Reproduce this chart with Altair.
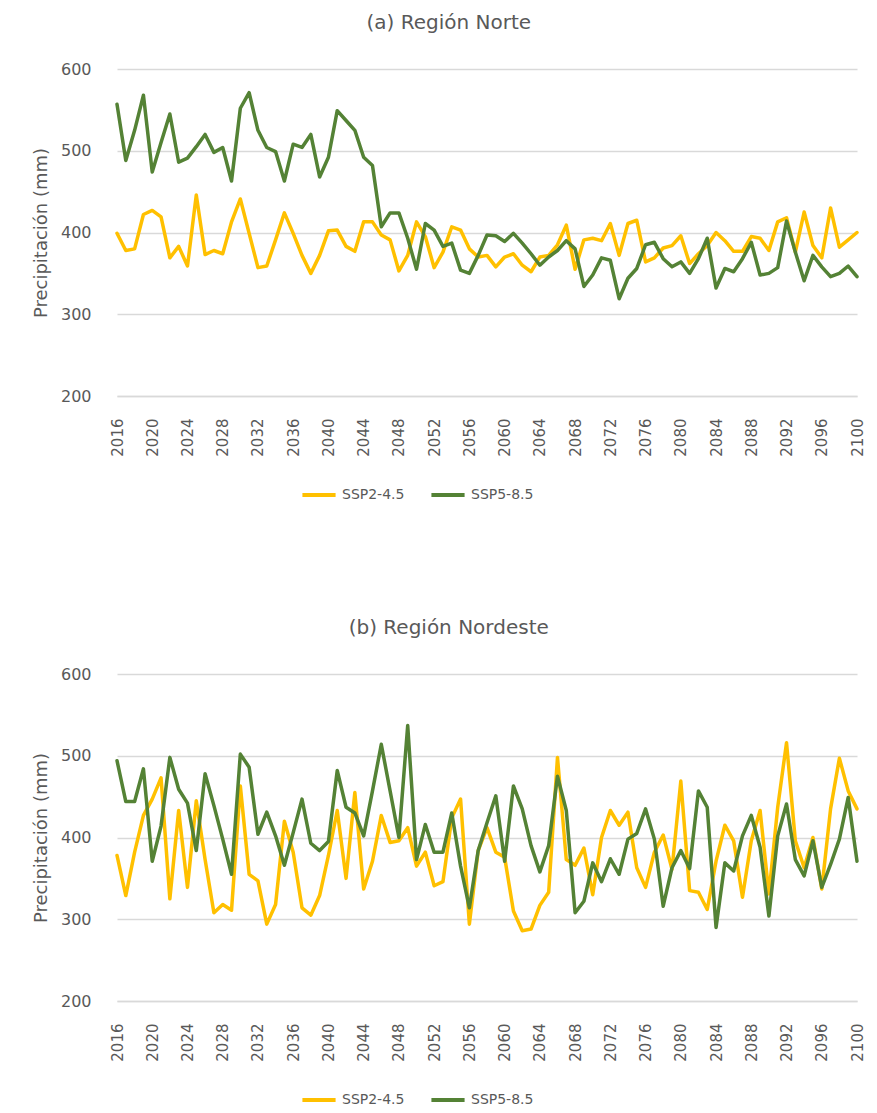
import altair as alt
import pandas as pd

years = list(range(2016, 2101))
scenarios = ["SSP2-4.5", "SSP5-8.5"]
regions = ["(a) Región Norte", "(b) Región Nordeste"]
x_ticks = list(range(2016, 2101, 4))
y_ticks = [200, 300, 400, 500, 600]

norte_ssp245 = [
    399, 378, 380, 422, 427, 419, 369, 383, 359, 446,
    373, 378, 374, 413, 441, 399, 357, 359, 391, 424,
    399, 372, 350, 372, 402, 403, 383, 377, 413, 413,
    397, 391, 353, 372, 413, 395, 357, 376, 407, 403,
    380, 370, 372, 358, 370, 374, 360, 352, 370, 372,
    385, 409, 355, 391, 393, 390, 411, 372, 411, 415,
    364, 369, 381, 384, 396, 362, 374, 384, 400, 390,
    377, 377, 395, 393, 378, 413, 418, 376, 425, 384,
    369, 430, 382, 391, 400,
]
norte_ssp585 = [
    557, 488, 525, 568, 474, 510, 545, 486, 491, 505,
    520, 498, 504, 463, 552, 571, 525, 504, 499, 463,
    508, 504, 520, 468, 492, 549, 537, 525, 492, 482,
    407, 424, 424, 393, 355, 411, 403, 383, 387, 354,
    350, 372, 397, 396, 389, 399, 387, 374, 360, 370,
    378, 390, 380, 334, 348, 369, 366, 319, 344, 356,
    385, 388, 368, 358, 364, 350, 368, 393, 332, 356,
    352, 368, 388, 348, 350, 357, 414, 376, 341, 372,
    358, 346, 350, 359, 346,
]
nordeste_ssp245 = [
    378, 329, 382, 427, 447, 473, 325, 433, 339, 445,
    373, 308, 318, 311, 463, 355, 347, 294, 318, 420,
    382, 314, 305, 329, 378, 433, 350, 455, 337, 371,
    427, 394, 396, 412, 365, 382, 341, 346, 424, 447,
    294, 384, 412, 382, 376, 310, 286, 288, 317, 333,
    498, 373, 366, 387, 330, 400, 433, 415, 431, 363,
    339, 382, 403, 361, 469, 335, 333, 312, 371, 415,
    396, 327, 396, 433, 331, 437, 516, 396, 363, 400,
    337, 435, 497, 457, 435,
]
nordeste_ssp585 = [
    494, 444, 444, 484, 371, 414, 498, 459, 442, 384,
    478, 439, 398, 355, 502, 486, 404, 431, 402, 366,
    406, 447, 393, 384, 395, 482, 437, 430, 402, 457,
    514, 457, 400, 537, 373, 416, 382, 382, 430, 365,
    314, 384, 418, 451, 371, 463, 435, 390, 358, 390,
    475, 433, 308, 322, 369, 346, 374, 355, 398, 405,
    435, 398, 316, 363, 384, 362, 457, 437, 290, 369,
    359, 402, 427, 388, 304, 402, 441, 373, 353, 396,
    339, 367, 398, 449, 371,
]

series = {
    (regions[0], scenarios[0]): norte_ssp245,
    (regions[0], scenarios[1]): norte_ssp585,
    (regions[1], scenarios[0]): nordeste_ssp245,
    (regions[1], scenarios[1]): nordeste_ssp585,
}
rows = []
for (reg, sc), vals in series.items():
    for yr, v in zip(years, vals):
        rows.append({"region": reg, "scenario": sc, "year": yr, "value": v})
df = pd.DataFrame(rows)

GRAY = "#595959"
FONT = "DejaVu Sans"


def panel(region):
    return (
        alt.Chart(df[df.region == region])
        .mark_line(strokeWidth=3.5, strokeJoin="round", strokeCap="round")
        .encode(
            x=alt.X(
                "year:Q",
                scale=alt.Scale(domain=[2016, 2100], nice=False, zero=False),
                axis=alt.Axis(
                    values=x_ticks, format="d", labelAngle=-90, title=None,
                    grid=False, ticks=False, domain=True, domainColor="#d9d9d9",
                    domainWidth=1.5, labelPadding=22, labelFont=FONT,
                    labelFontSize=15, labelColor=GRAY,
                ),
            ),
            y=alt.Y(
                "value:Q",
                scale=alt.Scale(domain=[200, 600], nice=False, zero=False),
                axis=alt.Axis(
                    values=y_ticks, title="Precipitación (mm)", grid=True,
                    gridColor="#d9d9d9", gridWidth=1.5, domain=False, ticks=False,
                    labelPadding=26, labelFont=FONT, labelFontSize=16,
                    labelColor=GRAY, titleFont=FONT, titleFontSize=18,
                    titleFontWeight="normal", titleColor=GRAY, titlePadding=10,
                ),
            ),
            color=alt.Color(
                "scenario:N",
                scale=alt.Scale(domain=scenarios, range=["#FFC000", "#548235"]),
                legend=alt.Legend(
                    title=None, orient="none", direction="horizontal",
                    legendX=183, legendY=407, symbolType="stroke",
                    symbolSize=1100, symbolStrokeWidth=4, labelFont=FONT,
                    labelFontSize=14, labelColor=GRAY, columnPadding=18,
                    labelOffset=4,
                ),
            ),
        )
        .properties(
            width=740,
            height=327,
            title=alt.TitleParams(
                region, frame="bounds", anchor="middle", font=FONT,
                fontSize=20, fontWeight="normal", color=GRAY, offset=28,
            ),
        )
    )


chart = (
    alt.vconcat(panel(regions[0]), panel(regions[1]), spacing=115)
    .resolve_legend(color="independent")
    .properties(padding={"left": 24, "top": 5, "right": 0, "bottom": 5})
    .configure_view(stroke=None)
)

chart.save("out.html", embed_options={"renderer": "svg", "actions": False})
